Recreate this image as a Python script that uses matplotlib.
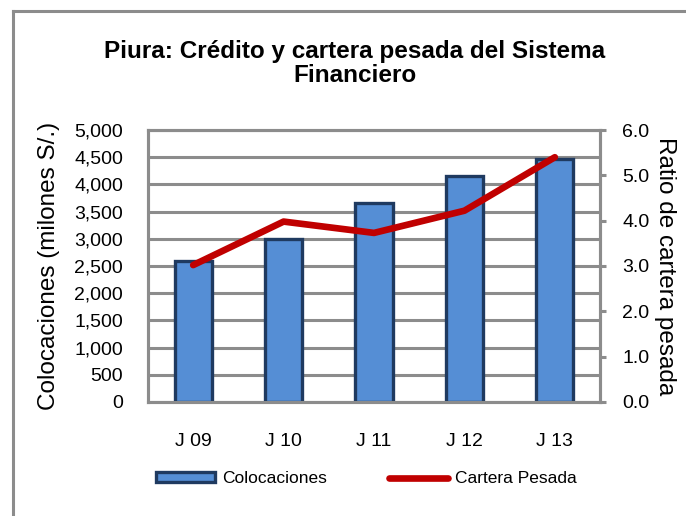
import matplotlib.pyplot as plt
import numpy as np
from matplotlib.lines import Line2D

plt.rc("font", family=["Liberation Sans", "DejaVu Sans"])

periodos = ["J 09", "J 10", "J 11", "J 12", "J 13"]
colocaciones = [2600, 3000, 3650, 4150, 4470]
cartera_pesada = [3.02, 3.98, 3.73, 4.22, 5.40]

left_ticks = np.arange(0, 5001, 500)
right_ticks = np.arange(0, 6.01, 1.0)

grey = "#8c8c8c"

fig = plt.figure(figsize=(6.86, 5.16), dpi=100)
ax = fig.add_axes([0.2157, 0.221, 0.659, 0.527])
ax2 = ax.twinx()

x = np.arange(len(periodos))
ax.bar(x, colocaciones, width=0.41, color="#558ED5", edgecolor="#1F3A60",
       linewidth=2.4, zorder=3)
ax2.plot(x, cartera_pesada, color="#C00000", lw=4.8, solid_capstyle="round", zorder=4)

ax.set_xlim(-0.5, len(periodos) - 0.5)
ax.set_ylim(0, 5000)
ax2.set_ylim(0, 6)
ax.set_yticks(left_ticks)
ax.set_yticklabels([f"{v:,}" for v in left_ticks], fontsize=14)
ax2.set_yticks(right_ticks)
ax2.set_yticklabels([f"{v:.1f}" for v in right_ticks], fontsize=14)
ax.set_xticks(x)
ax.set_xticklabels(periodos, fontsize=14)

ax.grid(axis="y", color=grey, lw=2.2, zorder=0)
ax.set_axisbelow(True)
for a in (ax, ax2):
    for s in a.spines.values():
        s.set_color(grey)
        s.set_linewidth(2.2)
ax.tick_params(axis="y", length=0, pad=18)
ax.tick_params(axis="x", length=0, pad=22)
ax2.tick_params(axis="y", length=4, width=2.2, color=grey, pad=12)

ax.set_ylabel("Colocaciones (milones S/.)", fontsize=17.5, labelpad=10)
ax2.set_ylabel("Ratio de cartera pesada", fontsize=17.5, rotation=-90, labelpad=19)

fig.text(0.517, 0.877, "Piura: Crédito y cartera pesada del Sistema\nFinanciero",
         ha="center", va="center", fontsize=17.5, fontweight="bold", linespacing=1.05)

handles = [
    plt.Rectangle((0, 0), 1, 1, facecolor="#558ED5", edgecolor="#1F3A60", linewidth=2.4),
    Line2D([0], [0], color="#C00000", lw=4.8, solid_capstyle="round"),
]
fig.legend(handles, ["Colocaciones", "Cartera Pesada"], loc="center",
           bbox_to_anchor=(0.534, 0.072), ncol=2, frameon=False, fontsize=12.5,
           handlelength=3.4, handleheight=0.5, columnspacing=3.6, handletextpad=0.4)

# outer frame (only top and left visible in the crop)
fig.add_artist(Line2D([0.019, 1.0], [0.979, 0.979], color=grey, lw=2.2))
fig.add_artist(Line2D([0.019, 0.019], [0.0, 0.979], color=grey, lw=2.2))

fig.savefig("out.png", dpi=100)
